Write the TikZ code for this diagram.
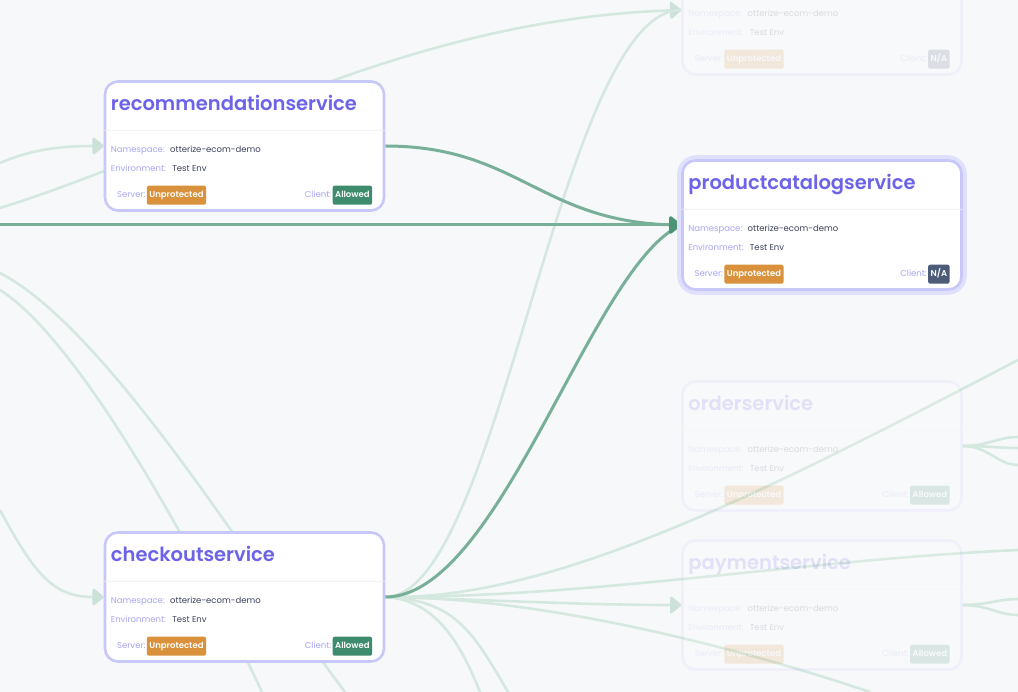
\documentclass[tikz,border=0pt]{standalone}
\usepackage{fontspec}
\setmainfont{Poppins}[BoldFont={Poppins SemiBold}]
\usetikzlibrary{arrows.meta,positioning}
\definecolor{mapBg}{HTML}{F7F8FA}
\definecolor{mapCardEdge}{HTML}{C8C7FA}
\definecolor{mapTitle}{HTML}{6C63E9}
\definecolor{mapLabel}{HTML}{A8A5F2}
\definecolor{mapValue}{HTML}{3B4157}
\definecolor{mapRule}{HTML}{EEEEF4}
\definecolor{mapUnprot}{HTML}{D9913B}
\definecolor{mapAllow}{HTML}{3F8B6D}
\definecolor{mapNA}{HTML}{4B5B78}
\definecolor{mapWire}{HTML}{D5E8E0}
\definecolor{mapWireTip}{HTML}{CCE2D8}
\definecolor{mapHot}{HTML}{78AF98}
\definecolor{mapHotTip}{HTML}{4B9476}
\pgfdeclarelayer{back}
\pgfdeclarelayer{wires}
\pgfsetlayers{back,wires,main}
\tikzset{
  card/.style={draw=mapCardEdge, line width=2.6pt, fill=white, rounded corners=13pt,
    minimum width=279pt, minimum height=129pt, inner sep=0pt},
  ttl/.style={anchor=base west, inner sep=0pt, mapTitle, font=\bfseries\fontsize{19.5}{23}\selectfont},
  lbl/.style={anchor=west, inner sep=0pt, text height=6.2pt, text depth=1.8pt, mapLabel,
    font=\fontsize{8.5}{10}\selectfont},
  val/.style={lbl, mapValue},
  badge/.style={fill=#1, text=white, rounded corners=2pt, inner xsep=2.5pt, inner ysep=0pt,
    minimum height=19pt, text height=6.2pt, text depth=1.8pt, font=\bfseries\fontsize{8.5}{10}\selectfont},
  sepline/.style={mapRule, line width=0.8pt},
  wire/.style={line width=2.6pt, mapWire},
  wirein/.style={wire, -{Triangle[length=12pt, width=19pt, round, color=mapWireTip]}},
  hot/.style={line width=3pt, mapHot},
  hotin/.style={hot, -{Triangle[length=13pt, width=20pt, round, color=mapHotTip]}},
}

\begin{document}
\begin{tikzpicture}[x=1pt, y=-1pt]
  \useasboundingbox (0,0) rectangle (1018,692);
  \begin{pgfonlayer}{back}
    \fill[mapBg] (0,0) rectangle (1018,692);
  \end{pgfonlayer}

  % service cards, the faded ones at low opacity
  \foreach \nm/\cx/\cy/\ttl/\cli/\clicol/\op in {
      reco/244.5/146/recommendationservice/Allowed/mapAllow/1,
      chk/244.5/597/checkoutservice/Allowed/mapAllow/1,
      pcat/822/225/productcatalogservice/{N/A}/mapNA/1,
      topc/822/10/{}/{N/A}/mapNA/0.16,
      ord/822/446/orderservice/Allowed/mapAllow/0.16,
      pay/822/605/paymentservice/Allowed/mapAllow/0.16} {
    \begin{scope}[transparency group, opacity=\op]
      \node[card] (\nm) at (\cx,\cy) {};
      \draw[sepline] ([yshift=-50pt]\nm.north west) -- ([yshift=-50pt]\nm.north east);
      \node[ttl] at ([xshift=7pt,yshift=-30pt]\nm.north west) {\ttl};
      \node[lbl] (\nm-ns) at ([xshift=7pt,yshift=-70pt]\nm.north west) {Namespace:};
      \node[val, right=5pt of \nm-ns] {otterize-ecom-demo};
      \node[lbl] (\nm-env) at ([xshift=7pt,yshift=-89pt]\nm.north west) {Environment:};
      \node[val, right=6pt of \nm-env] {Test Env};
      \node[badge=mapUnprot, anchor=west] (\nm-srv) at ([xshift=43pt,yshift=-115pt]\nm.north west) {Unprotected};
      \node[lbl, left=1pt of \nm-srv] {Server:};
      \node[badge=\clicol, anchor=east] (\nm-cli) at ([xshift=-13pt,yshift=-115pt]\nm.north east) {\cli};
      \node[lbl, left=1pt of \nm-cli] {Client:};
    \end{scope}
  }

  \begin{pgfonlayer}{wires}
    % loose ends at the rim
    \coordinate (inRow) at (0,225);
    \coordinate (inReco) at (0,163);
    \coordinate (inTop) at (0,208);
    \coordinate (inChk) at (0,510);
    \coordinate (inDown1) at (0,273);
    \coordinate (inDown2) at (0,290);
    \coordinate (outDown1) at (345,692);
    \coordinate (outDown2) at (262,692);
    \coordinate (outPay) at (1018,550);
    \coordinate (outOrd) at (1018,360);
    \coordinate (outLow) at (870,692);
    \coordinate (outB1) at (480,692);
    \coordinate (outB2) at (508,692);
    \foreach \y [count=\i] in {437,448,465} \coordinate (ordOut\i) at (1018,\y);
    \foreach \y [count=\i] in {599,615} \coordinate (payOut\i) at (1018,\y);

    % faded traffic
    \draw[wirein] (inReco) .. controls +(30,-13) and +(-45,0) .. (reco.west);
    \draw[wirein] (inTop) .. controls +(200,-62) and +(-282,10) .. (topc.west);
    \draw[wirein] (inChk) .. controls +(35,65) and +(-50,0) .. (chk.west);
    \draw[wire] (inDown1) .. controls +(110,57) and +(-85,-112) .. (outDown1);
    \draw[wire] (inDown2) .. controls +(80,50) and +(-62,-132) .. (outDown2);
    \draw[wire] (chk.east) .. controls +(115,0) and +(-122,0) .. (topc.west);
    \draw[wirein] (chk.east) .. controls +(110,3) and +(-100,0) .. (pay.west);
    \draw[wire] (chk.east) .. controls +(215,0) and +(-218,10) .. (outPay);
    \draw[wire] (chk.east) .. controls +(165,3) and +(-268,140) .. (outOrd);
    \draw[wire] (chk.east) .. controls +(135,0) and +(-170,-57) .. (outLow);
    \draw[wire] (chk.east) .. controls +(50,3) and +(-20,-50) .. (outB1);
    \draw[wire] (chk.east) .. controls +(70,3) and +(-35,-60) .. (outB2);
    \foreach \i in {1,2,3} \draw[wire] (ord.east) .. controls +(25,0) and +(-20,0) .. (ordOut\i);
    \foreach \i in {1,2} \draw[wire] (pay.east) .. controls +(25,0) and +(-20,0) .. (payOut\i);

    % highlighted traffic into productcatalogservice
    \draw[hot] (reco.east) .. controls +(135,0) and +(-140,0) .. (pcat.west);
    \draw[hot] (chk.east) .. controls +(115,0) and +(-90,40) .. (pcat.west);
    \draw[hotin] (inRow) -- (pcat.west);

    \draw[mapCardEdge!55, line width=8pt, rounded corners=15pt] (pcat.south west) rectangle (pcat.north east);
  \end{pgfonlayer}
\end{tikzpicture}
\end{document}
